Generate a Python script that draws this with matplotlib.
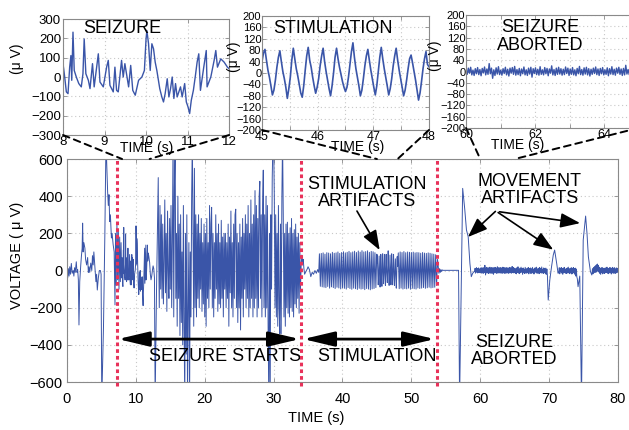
import numpy as np
import matplotlib
matplotlib.use("Agg")
import matplotlib.pyplot as plt
from matplotlib.patches import ConnectionPatch

plt.rcParams['font.family'] = ['Liberation Sans', 'DejaVu Sans']

# ---------------- data ----------------
# main trace, pre-seizure part (explicit times)
pre_t = [0.0, 0.1, 0.2, 0.3, 0.4, 0.5, 0.63, 0.75, 0.9, 1.0, 1.1, 1.2, 1.35, 1.45, 1.55, 1.65,
         1.74, 1.85, 2.0, 2.1, 2.2, 2.27, 2.35, 2.45, 2.6, 2.7, 2.85, 3.0, 3.1, 3.2, 3.3, 3.45,
         3.6, 3.7, 3.8, 3.9, 4.05, 4.2, 4.3, 4.4, 4.55, 4.7, 4.85, 4.95, 5.05, 5.3, 5.5, 5.66,
         5.75, 5.9, 6.0, 6.1, 6.2, 6.3, 6.45, 6.55, 6.7, 6.85, 6.97]
pre_v = [-10, -40, 10, -30, 20, -20, 38, -15, 0, -30, 15, -10, 47, -10, 5, -50,
         -293, -60, 30, 80, 120, 255, 100, 150, 120, 60, 30, 70, -10, 20, -10, 40,
         0, 80, 30, 100, 20, -60, -20, -105, -40, 0, 0, -20, -700, -300, 200, 700,
         600, 424, 350, 408, 263, 300, 175, 200, 140, 100, -185]
onset_v = [200, -80, 250, -50, 220, -100, 180, -60, 150, -40]          # 7.05 .. 7.95 s

# inset 1 (8-12 s, seizure)
sz_t = [8.0, 8.04, 8.08, 8.12, 8.16, 8.19, 8.21, 8.24, 8.27, 8.32, 8.38, 8.44, 8.48, 8.51, 8.55,
        8.61, 8.65, 8.71, 8.75, 8.81, 8.85, 8.89, 8.97, 9.05, 9.09, 9.13, 9.21, 9.25, 9.29, 9.33,
        9.41, 9.45, 9.49, 9.58, 9.63, 9.68, 9.74, 9.82, 9.90, 9.96, 10.00, 10.02, 10.06, 10.10,
        10.14, 10.18, 10.22, 10.26, 10.33, 10.38, 10.42, 10.46, 10.51, 10.55, 10.59, 10.63,
        10.67, 10.71, 10.75, 10.83, 10.87, 10.93, 10.97, 11.01, 11.05, 11.09, 11.14, 11.19,
        11.23, 11.27, 11.31, 11.39, 11.45, 11.47, 11.56, 11.64, 11.68, 11.72, 11.80, 11.88,
        11.96, 12.0]
sz_v = [69, 0, -77, -86, 51, 111, -17, 232, 34, 0, -34, -51, 17, 197, 17,
        -17, -60, 69, -51, 51, 120, -26, -51, 51, 86, -43, -77, 51, -69, -77,
        86, 0, 69, -51, 60, -69, -94, -17, 0, 34, 197, 240, 172, 34,
        172, 146, 77, 34, -60, -103, -129, -86, -9, -103, -60, 0,
        -111, -34, -103, -51, -103, -34, -129, -154, -189, -120, -69, 9,
        77, 120, -69, 51, 137, -51, 0, 86, 137, 51, 94, 77,
        51, 43]

gap_t = [12.1, 12.2, 12.3, 12.4, 12.5, 12.6, 12.7, 12.8, 13.0, 13.25]
gap_v = [-20, -50, -30, 0, 25, 10, -40, -700, -100, 500]

# seizure, 13.3 .. 33.9 s every 0.1 s
seizure_v = [150, -200, 350, -100, 300, -150, 250,
             -180, 50, 380, -120, 200, -220, 320, 0, -150, 280,
             -100, 350, -200, 150, 700, -250, 450, 700, -150, 200,
             -300, 400, -150, 250, -350, 300, -280, 100, -400, 350,
             -300, -700, 200, -450, 300, -700, -200, 150, -700, 100,
             -250, 400, 700, 200, -300, 550, -200, 300, -250, 250,
             -150, 300, -200, 200, -100, 280, -220, 150, -180, 250,
             -250, 200, -300, 280, -150, 150, -200, 350, -100, 250,
             340, -200, 200, -250, 150, -150, 300, -100, 200, -220,
             250, -180, 150, -200, 270, -150, 180, -250, 200, -100,
             200, -200, 150, -150, 250, -300, 180, -120, 320, -200,
             150, -250, 250, -150, 300, 330, -200, 200, -280, 150,
             -200, 250, -320, 180, -150, 280, -250, 200, -100, 300,
             -200, 250, -150, 350, -250, 200, -200, 380, -150, 250,
             -250, 300, -200, 430, -150, 350, -250, 280, -200, 400,
             480, -150, 300, -250, 350, 540, -200, 300, -250, 400,
             -200, 350, -300, -700, 200, -700, 300, -100, 500, 700,
             700, 400, -200, 300, -250, 200, -300, 350, -200, -340,
             250, -340, 400, 700, 300, -250, 200, -300, 250, -200,
             260, -230, 200, -250, 230, -200, 280, -220, 200, -250,
             220, -180, 250, -200, 180, -150, 200, -230, 150, -100]

post_t = [34.0, 34.1, 34.2, 34.3, 34.4, 34.5, 34.7, 34.9, 35.0, 35.2, 35.4, 35.6, 35.8, 36.0,
          36.2, 36.4, 36.55]
post_v = [30, 83, 40, 60, 10, -20, -5, 10, 20, 5, -33, -10, -20, 0, -15, 5, -10]

# stimulation band 36.65 .. 44.98 s
bandA_v = [90, -85, 92, -88, 95, -90, 88, -92, 96, -86,
           94, -95, 90, -88, 98, -92, 93, -97, 95, -90,
           100, -94, 92, -99, 97, -93, 101, -96, 95, -100,
           98, -92, 103, -97, 96, -101, 100, -95, 104, -98,
           97, -102, 105, -96, 99, -100, 107, -98, 100, -103,
           102, -97, 106, -100, 98, -104, 103, -99, 101, -97,
           96, -92, 88]

# inset 2 (45-48 s, stimulation)
stim_v = [40, 70, 83,
          45, 10, -15, -45, -77, -60, -25, 20, 55, 78,
          40, 5, -20, -50, -89, -55, -15, 45, 87,
          50, 15, -10, -40, -70, -85, -45, 10, 60, 90,
          45, 20, -15, -45, -71, -50, -20, 25, 60, 87,
          40, 5, -25, -55, -80, -45, 0, 55, 87,
          50, 20, -5, -30, -50, -65, -50, -15, 30, 75, 106,
          55, 15, -15, -45, -80, -60, -20, 25, 60, 83,
          45, 10, -20, -50, -77, -45, 5, 55, 90,
          50, 15, -15, -45, -77, -55, -20, 25, 60, 87,
          45, 10, -20, -50, -80, -60, -25, 15, 50, 63,
          35, 5, -25, -60, -95, -70, -30, 15, 50, 75,
          30, 22]

# stimulation band 48.1 .. 53.8 s
bandB_v = [95, -98, 100, -95, 97, -100, 102, -97, 96, -99,
           100, -95, 98, -101, 97, -96, 99, -98, 95, -100,
           97, -94, 96, -97, 93, -95, 97, -92, 94, -96,
           92, -93, 95, -90, 93, -94, 90, -92, 88, -90,
           85, -80, 60]

abort_t = [53.9, 54.0, 54.1, 54.2, 54.3, 54.4, 54.5, 54.6, 56.85, 57.0, 57.45, 57.75,
           58.0, 58.25, 58.5, 58.7, 58.9, 59.1]
abort_v = [20, -15, 10, -10, 5, -5, 3, 1, 1, -700, 442, 330,
           218, 182, 38, -33, -15, -6]
quiet1_v = [-5, 12, -14, 8, -10, 15, -6, 11, -13, 9, -8, 14, -12, 6, -9, 10]   # 59.2 .. 59.97 s

# inset 3 (60-65 s, seizure aborted)
abortz_v = [8, -10, 12, -6, 15, -12, 5, -14, 10, -8,
            14, -11, 7, -15, 11, -5, 16, -12, 9, -10,
            28, -8, 12, -24, 6, -14, 13, -9, 17, -11,
            5, -13, 10, -7, 15, -12, 8, -16, 12, -6,
            14, -10, 18, -13, 7, -11, 11, -15, 9, -8,
            16, -12, 6, -14, 12, -9, 15, -20, 10, -7,
            13, -11, 8, -13, 17, -10, 6, -12, 14, -8,
            11, -15, 9, -6, 20, -12, 7, -14, 12, -10,
            15, -9, 10, -13, 8, -11, 16, -7, 12, -14,
            9, -10, 14, -12, 6, -15, 11, -8, 18, -11,
            7, -13, 13, -9, 15, -12, 10, -16, 8, -10,
            12, -7, 16, -11, 9, -14, 11, -8, 14, -12,
            6, -10, 13, -15, 10, -9, 17, -11, 8, -13,
            12, -6, 15, -10, 9, -14, 11, -12, 22, -9,
            7, -11, 13, -8, 16, -13, 10, -10, 12, -7]

quiet2_v = [12, -15, 8, -18, 15, -10, 20, -14, 6, -17, 13, -12, 18, -9, 10, -20,
            14, -11, 7, -16, 17, -13, 9, -15, 12, -10, 16, -18, 11, -8, 14, -16,
            10, -14, 17, -11, 8, -19, 13, -9, 15, -12, 18, -15, 9, -13, 12, -17,
            16, -10, 11, -14, 19, -12, 7, -16, 14, -11, 10, -18, 13, -20, 8, -25]  # 65.03 .. 69.75 s
move2_t = [69.87, 70.1, 70.35, 70.6, 70.8, 71.1, 71.3]
move2_v = [-159, -51, 20, 83, 110, 38, -15]
quiet3_v = [-10, 15, -18, 12, -8, 16, -14, 10, -20, 13, -9, 17, -12, 8, -15, 11, -16, 14, -11,
            18, -13, 9, -17, 12, -10, 15, -19, 11, -14, 16, -12, 10, -20, 13, -30, 8, -35, -45]  # 71.4 .. 74.1
move3_t = [74.2, 74.45, 74.7, 74.95, 75.3, 75.5, 75.7, 76.0, 76.2]
move3_v = [-87, -30, -700, 164, 293, 200, 74, -6, -24]
quiet4_v = [10, -18, 15, -12, 20, -8, 25, -10, 30, -5, 35, -2, 28, -8, 18, -15, 12, -20,
            14, -10, 16, -18, 9, -14, 13, -16, 11, -12, 15, -10, 18, -14, 12, -17, 10, -13,
            16, -11, 14, -19, 12, -9, 17, -15, 11, -12, 15, -16, 9, -13, 14, -10, 12, -8]  # 76.3 .. 80 s

# markers and labels
event_times = [7.3, 34.0, 53.7]
main_xticks = [0, 10, 20, 30, 40, 50, 60, 70, 80]
main_yticks = [-600, -400, -200, 0, 200, 400, 600]

# ---------------- build series ----------------
sz_tt = np.array(sz_t)
stim_t = np.linspace(45.0, 48.0, len(stim_v))
abortz_t = np.linspace(60.0, 65.0, len(abortz_v))

main_t = np.concatenate([
    pre_t, np.linspace(7.05, 7.95, len(onset_v)), sz_t, gap_t,
    np.linspace(13.3, 33.9, len(seizure_v)), post_t,
    np.linspace(36.65, 44.98, len(bandA_v)), stim_t,
    np.linspace(48.1, 53.8, len(bandB_v)), abort_t,
    np.linspace(59.2, 59.97, len(quiet1_v)), abortz_t,
    np.linspace(65.03, 69.75, len(quiet2_v)), move2_t,
    np.linspace(71.4, 74.1, len(quiet3_v)), move3_t,
    np.linspace(76.3, 80.0, len(quiet4_v))])
main_v = np.concatenate([
    pre_v, onset_v, sz_v, gap_v, seizure_v, post_v, bandA_v, stim_v, bandB_v,
    abort_v, quiet1_v, abortz_v, quiet2_v, move2_v, quiet3_v, move3_v, quiet4_v])

BLUE = '#3A55A8'
RED = '#E8325A'
FRAME = '#8a8a8a'
GRID = dict(color='#c8c8c8', linestyle=(0, (1, 2.5)), linewidth=0.8)

fig = plt.figure(figsize=(6.29, 4.30), dpi=100)

def style(ax, fs):
    for s in ax.spines.values():
        s.set_color(FRAME)
        s.set_linewidth(0.8)
    ax.tick_params(direction='in', length=3, width=0.6, color=FRAME, labelsize=fs,
                   top=True, right=True, pad=1.5)
    ax.grid(True, **GRID)
    ax.set_axisbelow(True)

# ---------------- main axes ----------------
ax = fig.add_axes([0.1065, 0.1116, 0.876, 0.5186])
ax.plot(main_t, main_v, color=BLUE, lw=0.7)
ax.set_xlim(0, 80)
ax.set_ylim(-600, 600)
ax.set_xticks(main_xticks)
ax.set_yticks(main_yticks)
style(ax, 10.5)
ax.tick_params(axis='x', pad=7)
ax.tick_params(axis='y', pad=3)
ax.set_xlabel('TIME (s)', fontsize=10.5)
ax.xaxis.set_label_coords(0.452, -0.161)
ax.xaxis.label.set_va('center')
ax.set_ylabel('VOLTAGE ( μ V)', fontsize=10.5)
ax.yaxis.set_label_coords(-0.091, 0.57)
ax.yaxis.label.set_va('center')

for et in event_times:
    ax.axvline(et, ymin=-0.02, ymax=1.0, color=RED, lw=2.2, linestyle=(0, (1.2, 1.0)),
               clip_on=False, zorder=4)

arrow_style = '<|-|>, head_length=1.9, head_width=0.45'
ax.annotate('', xy=(33.8, -369), xytext=(7.4, -369),
            arrowprops=dict(arrowstyle=arrow_style, mutation_scale=10, lw=2.0,
                            color='black', shrinkA=0, shrinkB=0), zorder=5)
ax.annotate('', xy=(53.4, -369), xytext=(34.3, -369),
            arrowprops=dict(arrowstyle=arrow_style, mutation_scale=10, lw=2.0,
                            color='black', shrinkA=0, shrinkB=0), zorder=5)

tfs = 13
ax.text(22.9, -465, 'SEIZURE STARTS', fontsize=tfs, ha='center', va='center')
ax.text(45.0, -465, 'STIMULATION', fontsize=tfs, ha='center', va='center')
ax.text(65.0, -433, 'SEIZURE\nABORTED', fontsize=tfs, ha='center', va='center',
        linespacing=1.05)
ax.text(43.5, 417, 'STIMULATION\nARTIFACTS', fontsize=tfs, ha='center', va='center',
        linespacing=1.05)
ax.text(67.2, 433, 'MOVEMENT\nARTIFACTS', fontsize=tfs, ha='center', va='center',
        linespacing=1.05)

small_arrow = dict(arrowstyle='-|>, head_length=1.2, head_width=0.45', mutation_scale=10,
                   lw=1.2, color='black', shrinkA=0, shrinkB=0)
ax.annotate('', xy=(45.4, 110), xytext=(42.1, 320), arrowprops=small_arrow)
ax.annotate('', xy=(58.2, 180), xytext=(62.2, 318), arrowprops=small_arrow)
ax.annotate('', xy=(70.6, 112), xytext=(62.6, 312), arrowprops=small_arrow)
ax.annotate('', xy=(74.5, 255), xytext=(62.8, 316), arrowprops=small_arrow)

# ---------------- inset 1 ----------------
ax1 = fig.add_axes([0.1002, 0.686, 0.2640, 0.2698])
ax1.plot(sz_tt, sz_v, color=BLUE, lw=1.0)
ax1.set_xlim(8, 12)
ax1.set_ylim(-300, 300)
ax1.set_xticks([8, 9, 10, 11, 12])
ax1.set_yticks([-300, -200, -100, 0, 100, 200, 300])
style(ax1, 9.5)
ax1.tick_params(axis='x', pad=0.5)
ax1.set_xlabel('TIME (s)', fontsize=10)
ax1.xaxis.set_label_coords(0.506, -0.115)
ax1.xaxis.label.set_va('center')
ax1.set_ylabel('(μ V)', fontsize=10)
ax1.yaxis.set_label_coords(-0.277, 0.66)
ax1.yaxis.label.set_va('center')
ax1.text(0.355, 0.914, 'SEIZURE', transform=ax1.transAxes, fontsize=tfs,
         ha='center', va='center')

# ---------------- inset 2 ----------------
ax2 = fig.add_axes([0.4165, 0.6977, 0.2655, 0.265])
ax2.plot(stim_t, stim_v, color=BLUE, lw=1.2)
ax2.set_xlim(45, 48)
ax2.set_ylim(-200, 200)
ax2.set_xticks([45, 45.5, 46, 46.5, 47, 47.5, 48])
ax2.set_xticklabels(['45', '', '46', '', '47', '', '48'])
ax2.set_yticks(np.arange(-200, 201, 40))
style(ax2, 8)
ax2.tick_params(axis='x', pad=0.5, labelsize=9)
ax2.tick_params(axis='y', pad=0.5)
ax2.set_xlabel('TIME (s)', fontsize=10)
ax2.xaxis.set_label_coords(0.57, -0.152)
ax2.xaxis.label.set_va('center')
ax2.set_ylabel('(μ V)', fontsize=10)
ax2.yaxis.set_label_coords(-0.17, 0.64)
ax2.yaxis.label.set_va('center')
ax2.text(0.425, 0.895, 'STIMULATION', transform=ax2.transAxes, fontsize=tfs,
         ha='center', va='center')

# ---------------- inset 3 ----------------
ax3 = fig.add_axes([0.7409, 0.7023, 0.2742, 0.2628])
ax3.plot(abortz_t, abortz_v, color=BLUE, lw=1.0)
ax3.set_xlim(60, 65)
ax3.set_ylim(-200, 200)
ax3.set_xticks([60, 61, 62, 63, 64, 65])
ax3.set_xticklabels(['60', '', '62', '', '64', ''])
ax3.set_yticks(np.arange(-200, 201, 40))
style(ax3, 8)
ax3.tick_params(axis='x', pad=0.5, labelsize=9)
ax3.tick_params(axis='y', pad=0.5)
ax3.set_xlabel('TIME (s)', fontsize=10)
ax3.xaxis.set_label_coords(0.30, -0.152)
ax3.xaxis.label.set_va('center')
ax3.set_ylabel('(μ V)', fontsize=10)
ax3.yaxis.set_label_coords(-0.18, 0.64)
ax3.yaxis.label.set_va('center')
ax3.text(0.429, 0.81, 'SEIZURE\nABORTED', transform=ax3.transAxes, fontsize=tfs,
         ha='center', va='center', linespacing=1.05)

# ---------------- zoom connectors ----------------
for axi, (x0, x1), ybot in [(ax1, (8, 12), -300), (ax2, (45, 48), -200), (ax3, (60, 65), -200)]:
    for xv in (x0, x1):
        cp = ConnectionPatch(xyA=(xv, ybot), coordsA=axi.transData,
                             xyB=(xv, 600), coordsB=ax.transData,
                             color='black', lw=1.4, linestyle=(0, (3.5, 2.5)), zorder=6)
        cp.set_clip_on(False)
        fig.add_artist(cp)

fig.savefig('out.png', dpi=100)
